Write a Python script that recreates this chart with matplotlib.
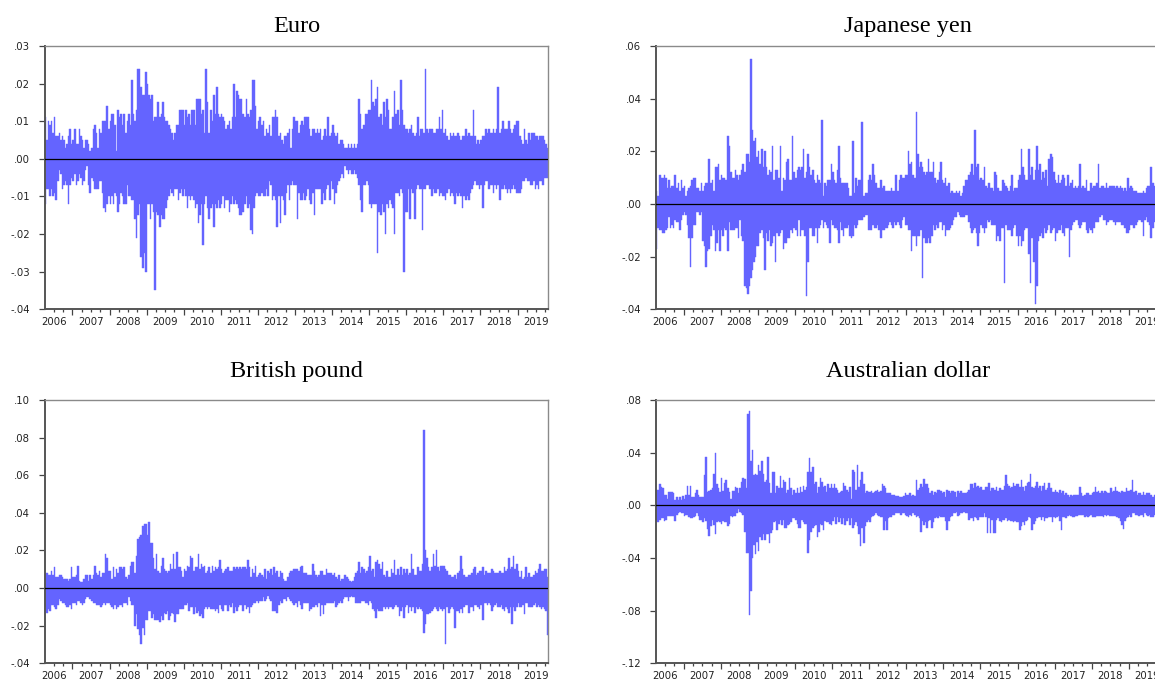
import numpy as np
import matplotlib
matplotlib.use("Agg")
import matplotlib.pyplot as plt
from matplotlib.ticker import FixedLocator, FuncFormatter

# ---------------- data: half-monthly high / low of daily returns (units of 0.001) ----------------
years = list(range(2006, 2020))   # 2006 starts in April, 2019 ends in October

euro_hi = [
    [11, 5, 10, 9, 10, 7, 11, 6, 6, 7, 5, 6, 5, 3, 4, 6, 8, 4],
    [5, 8, 4, 4, 8, 6, 5, 3, 5, 5, 4, 2, 3, 8, 9, 7, 3, 8, 7, 10, 10, 10, 14, 8],
    [10, 12, 12, 9, 2, 13, 11, 12, 9, 12, 7, 10, 12, 9, 21, 12, 10, 13, 24, 24, 19, 17, 17, 23],
    [20, 17, 16, 17, 10, 11, 11, 15, 11, 12, 15, 11, 10, 10, 9, 8, 7, 5, 7, 9, 9, 13, 13, 13],
    [9, 13, 11, 12, 9, 13, 13, 9, 16, 16, 16, 12, 13, 7, 24, 15, 7, 13, 10, 17, 12, 19, 12, 11],
    [12, 11, 10, 8, 9, 10, 8, 11, 20, 11, 18, 17, 16, 16, 12, 11, 16, 12, 11, 13, 21, 21, 14, 8],
    [10, 11, 9, 10, 6, 8, 7, 9, 6, 11, 11, 13, 11, 6, 7, 5, 4, 6, 6, 7, 8, 3, 8, 11],
    [10, 10, 7, 9, 10, 9, 11, 11, 11, 8, 6, 8, 8, 7, 8, 7, 8, 5, 6, 8, 6, 11, 6, 7],
    [9, 7, 6, 7, 4, 5, 5, 4, 3, 3, 4, 3, 4, 3, 4, 3, 4, 16, 12, 8, 9, 12, 12, 13],
    [13, 21, 15, 14, 16, 19, 11, 12, 9, 15, 11, 16, 13, 8, 8, 11, 18, 12, 13, 9, 21, 13, 9, 8],
    [8, 7, 8, 9, 7, 6, 7, 11, 6, 8, 8, 7, 24, 8, 7, 8, 8, 7, 7, 8, 8, 11, 8, 13],
    [7, 8, 6, 5, 7, 6, 7, 6, 6, 7, 6, 5, 6, 6, 8, 6, 7, 6, 6, 13, 6, 4, 5, 4],
    [5, 6, 6, 8, 7, 8, 7, 7, 8, 7, 8, 19, 7, 8, 10, 8, 8, 8, 10, 8, 7, 8, 9, 10],
    [10, 6, 5, 4, 8, 5, 4, 7, 5, 7, 7, 6, 6, 5, 6, 6, 6, 5, 4, 3],
]
euro_lo = [
    [-12, -8, -8, -10, -8, -10, -9, -11, -6, -3, -4, -8, -7, -6, -7, -12, -7, -5],
    [-6, -4, -7, -6, -4, -5, -7, -6, -3, -2, -7, -9, -5, -6, -8, -8, -8, -6, -6, -9, -13, -14, -12, -10],
    [-12, -10, -12, -9, -10, -14, -12, -9, -10, -12, -12, -7, -10, -10, -11, -11, -16, -21, -15, -12, -26, -29, -25, -30],
    [-12, -12, -16, -12, -14, -35, -14, -15, -18, -15, -16, -16, -13, -11, -10, -8, -9, -10, -8, -8, -11, -9, -8, -10],
    [-8, -10, -13, -10, -11, -10, -11, -13, -12, -17, -15, -12, -23, -12, -10, -13, -16, -13, -12, -18, -12, -13, -11, -13],
    [-12, -10, -13, -11, -11, -14, -12, -10, -12, -11, -12, -13, -15, -15, -14, -12, -10, -13, -12, -19, -20, -13, -10, -9],
    [-10, -10, -9, -10, -10, -8, -10, -6, -7, -11, -10, -11, -18, -10, -17, -10, -11, -15, -9, -7, -11, -7, -6, -7],
    [-7, -16, -9, -11, -11, -9, -11, -10, -8, -11, -12, -9, -15, -8, -8, -8, -8, -12, -9, -11, -8, -7, -11, -6],
    [-8, -12, -9, -7, -6, -5, -4, -5, -2, -3, -4, -3, -4, -4, -3, -4, -5, -7, -11, -14, -7, -7, -6, -7],
    [-12, -13, -12, -12, -12, -25, -14, -15, -12, -14, -20, -12, -13, -11, -12, -13, -20, -9, -9, -10, -8, -9, -30, -14],
    [-14, -8, -16, -8, -9, -16, -8, -7, -8, -8, -19, -8, -8, -7, -7, -8, -10, -8, -9, -9, -8, -10, -9, -10],
    [-10, -11, -9, -8, -10, -9, -10, -12, -9, -10, -9, -10, -13, -10, -11, -10, -11, -9, -8, -7, -6, -7, -7, -8],
    [-7, -13, -7, -6, -6, -8, -7, -7, -9, -7, -8, -7, -11, -8, -8, -7, -8, -9, -8, -9, -8, -7, -8, -9],
    [-9, -9, -8, -6, -6, -5, -6, -6, -7, -7, -6, -8, -7, -8, -6, -6, -7, -5, -5, -5],
]

yen_hi = [
    [5, 3, 11, 10, 10, 11, 10, 6, 9, 6, 7, 7, 11, 6, 8, 5, 9, 6],
    [7, 3, 5, 6, 7, 9, 10, 10, 6, 6, 5, 8, 5, 7, 8, 8, 17, 8, 9, 5, 14, 14, 15, 9],
    [11, 10, 10, 9, 26, 22, 12, 10, 10, 13, 11, 9, 11, 13, 15, 12, 19, 19, 16, 55, 28, 24, 25, 18],
    [20, 15, 21, 14, 20, 14, 11, 13, 12, 22, 9, 13, 13, 10, 22, 5, 10, 9, 16, 17, 9, 9, 26, 12],
    [10, 13, 14, 13, 14, 21, 10, 12, 19, 14, 11, 13, 9, 8, 11, 9, 8, 32, 3, 8, 7, 9, 9, 15],
    [12, 9, 8, 13, 22, 10, 8, 8, 8, 8, 6, 3, 3, 24, 4, 10, 7, 9, 9, 31, 3, 4, 4, 9],
    [11, 9, 15, 11, 8, 6, 6, 9, 6, 7, 5, 5, 5, 5, 6, 5, 5, 11, 5, 9, 11, 10, 10, 11],
    [11, 20, 15, 16, 11, 10, 35, 19, 14, 16, 14, 12, 11, 12, 17, 12, 12, 16, 10, 8, 9, 12, 16, 9],
    [8, 10, 7, 8, 4, 5, 4, 4, 5, 4, 5, 3, 4, 7, 9, 9, 11, 12, 15, 11, 28, 14, 15, 9],
    [10, 9, 14, 7, 6, 8, 6, 6, 5, 12, 11, 6, 5, 5, 9, 8, 7, 6, 5, 7, 11, 5, 6, 6],
    [9, 11, 21, 14, 11, 9, 9, 21, 11, 14, 9, 13, 22, 13, 15, 9, 12, 10, 13, 7, 17, 19, 18, 12],
    [9, 8, 11, 8, 9, 11, 10, 7, 11, 7, 8, 9, 6, 7, 6, 7, 15, 6, 7, 6, 9, 5, 5, 8],
    [6, 7, 7, 8, 15, 6, 7, 7, 6, 8, 6, 7, 7, 7, 7, 6, 7, 6, 7, 6, 5, 6, 5, 10],
    [6, 7, 6, 5, 5, 4, 4, 4, 4, 5, 4, 6, 7, 7, 14, 8, 7, 6, 6, 6],
]
yen_lo = [
    [-17, -9, -10, -10, -11, -11, -10, -9, -5, -9, -8, -9, -6, -7, -7, -10, -6, -4],
    [-3, -4, -8, -13, -24, -13, -8, -8, -3, -3, -4, -3, -14, -16, -24, -18, -17, -12, -8, -10, -18, -15, -10, -18],
    [-10, -12, -9, -10, -18, -7, -10, -10, -10, -9, -9, -13, -6, -12, -14, -31, -32, -34, -31, -28, -25, -22, -20, -16],
    [-16, -11, -10, -13, -25, -11, -14, -10, -16, -15, -12, -22, -11, -12, -11, -10, -17, -15, -15, -13, -13, -10, -11, -9],
    [-10, -12, -6, -12, -10, -10, -12, -35, -22, -9, -9, -12, -12, -9, -15, -9, -8, -6, -9, -7, -8, -9, -15, -6],
    [-8, -9, -9, -10, -15, -7, -10, -12, -9, -9, -8, -12, -13, -12, -8, -9, -8, -6, -6, -6, -5, -4, -4, -10],
    [-10, -10, -8, -9, -9, -8, -10, -13, -10, -10, -9, -9, -8, -7, -8, -9, -7, -8, -7, -8, -9, -6, -5, -8],
    [-8, -10, -10, -18, -12, -12, -16, -12, -12, -10, -28, -13, -15, -15, -13, -15, -12, -8, -10, -8, -9, -7, -7, -10],
    [-8, -12, -10, -10, -9, -8, -6, -5, -5, -3, -4, -5, -5, -5, -4, -4, -7, -9, -11, -10, -9, -11, -16, -11],
    [-8, -9, -11, -9, -6, -7, -6, -8, -8, -8, -14, -12, -14, -9, -9, -30, -8, -10, -10, -10, -12, -9, -8, -12],
    [-16, -12, -16, -14, -10, -9, -9, -19, -30, -13, -22, -38, -31, -14, -12, -11, -13, -9, -11, -10, -8, -11, -10, -9],
    [-14, -11, -10, -10, -8, -11, -12, -9, -9, -20, -10, -8, -7, -6, -6, -8, -9, -8, -7, -7, -10, -11, -9, -10],
    [-11, -9, -7, -7, -7, -5, -4, -6, -6, -8, -7, -6, -6, -6, -7, -8, -7, -7, -7, -8, -8, -9, -11, -11],
    [-10, -8, -8, -9, -8, -7, -6, -6, -7, -12, -6, -5, -7, -8, -13, -9, -7, -6, -7, -7],
]

gbp_hi = [
    [8, 8, 7, 7, 9, 7, 11, 6, 6, 7, 7, 6, 5, 5, 5, 4, 5, 11],
    [6, 6, 7, 12, 4, 3, 3, 5, 7, 7, 4, 7, 5, 7, 12, 8, 7, 9, 6, 8, 8, 18, 16, 9],
    [9, 5, 11, 6, 10, 8, 11, 11, 10, 11, 6, 5, 7, 12, 14, 14, 8, 17, 26, 27, 28, 33, 34, 34],
    [28, 35, 24, 24, 16, 10, 18, 9, 8, 12, 16, 10, 9, 8, 9, 13, 10, 18, 10, 19, 11, 11, 9, 6],
    [10, 9, 12, 11, 17, 16, 9, 11, 11, 18, 10, 13, 11, 12, 8, 9, 11, 8, 12, 9, 11, 10, 11, 15],
    [10, 8, 9, 10, 11, 9, 9, 9, 11, 10, 11, 10, 11, 10, 11, 11, 10, 15, 11, 6, 10, 8, 12, 6],
    [7, 8, 7, 6, 10, 5, 9, 8, 10, 7, 11, 8, 9, 6, 9, 8, 5, 4, 4, 6, 8, 9, 9, 10],
    [10, 10, 9, 11, 12, 8, 8, 8, 7, 7, 7, 13, 9, 7, 6, 7, 9, 9, 7, 7, 10, 8, 8, 8],
    [7, 8, 6, 5, 7, 4, 5, 5, 7, 6, 5, 4, 3, 4, 6, 8, 9, 14, 8, 11, 10, 8, 9, 11],
    [17, 9, 10, 6, 14, 15, 13, 10, 14, 7, 6, 9, 6, 6, 10, 8, 15, 7, 10, 7, 11, 7, 10, 8],
    [10, 7, 8, 18, 10, 7, 7, 11, 9, 9, 13, 84, 20, 16, 11, 9, 11, 18, 12, 20, 11, 9, 12, 12],
    [12, 10, 9, 7, 7, 6, 6, 7, 5, 8, 9, 17, 10, 7, 6, 6, 7, 7, 8, 10, 11, 7, 8, 9],
    [9, 11, 7, 9, 8, 8, 8, 10, 9, 8, 8, 8, 9, 8, 8, 11, 9, 10, 16, 10, 11, 17, 10, 13],
    [9, 6, 9, 5, 6, 11, 6, 8, 6, 6, 7, 9, 8, 10, 13, 9, 9, 10, 10, 6],
]
gbp_lo = [
    [-10, -13, -11, -12, -9, -9, -10, -11, -9, -6, -7, -8, -8, -9, -10, -10, -9, -11],
    [-8, -8, -9, -7, -7, -8, -9, -8, -6, -5, -5, -6, -7, -8, -8, -9, -9, -9, -10, -9, -8, -9, -8, -8],
    [-9, -10, -11, -9, -11, -10, -9, -9, -10, -8, -8, -9, -5, -7, -9, -9, -20, -14, -22, -25, -30, -21, -25, -17],
    [-17, -12, -12, -16, -14, -17, -17, -17, -18, -15, -17, -13, -14, -12, -17, -15, -13, -14, -18, -14, -14, -11, -11, -11],
    [-9, -9, -8, -12, -10, -10, -14, -10, -13, -12, -15, -14, -16, -11, -10, -11, -10, -11, -11, -11, -12, -11, -13, -9],
    [-11, -12, -9, -9, -12, -9, -10, -8, -13, -10, -12, -10, -9, -9, -12, -9, -11, -10, -13, -10, -9, -8, -8, -7],
    [-8, -7, -7, -5, -7, -6, -4, -6, -7, -12, -12, -12, -13, -9, -7, -8, -6, -6, -7, -5, -6, -7, -8, -9],
    [-8, -10, -7, -9, -11, -8, -8, -8, -8, -12, -11, -10, -10, -9, -10, -8, -15, -9, -14, -9, -8, -8, -8, -8],
    [-8, -7, -10, -9, -8, -7, -8, -6, -5, -5, -7, -5, -4, -5, -5, -8, -8, -8, -8, -7, -7, -8, -8, -9],
    [-7, -8, -11, -12, -16, -11, -12, -12, -12, -10, -11, -10, -11, -10, -10, -11, -10, -9, -10, -15, -12, -10, -16, -10],
    [-9, -13, -10, -12, -10, -13, -10, -11, -10, -11, -12, -24, -19, -14, -14, -13, -12, -11, -10, -11, -12, -10, -11, -12],
    [-11, -30, -10, -13, -11, -10, -11, -21, -12, -12, -13, -11, -13, -10, -9, -9, -13, -10, -10, -12, -9, -9, -10, -11],
    [-9, -17, -8, -8, -9, -8, -9, -12, -10, -9, -8, -10, -10, -9, -11, -12, -10, -11, -13, -10, -19, -10, -12, -10],
    [-8, -10, -10, -9, -14, -8, -8, -10, -10, -10, -9, -8, -10, -9, -10, -11, -10, -11, -12, -25],
]

aud_hi = [
    [12, 12, 16, 14, 13, 8, 8, 5, 10, 10, 10, 9, 4, 6, 4, 6, 4, 7],
    [5, 8, 15, 8, 15, 6, 6, 9, 12, 8, 6, 6, 6, 23, 37, 10, 11, 12, 13, 24, 40, 16, 13, 10],
    [21, 11, 17, 19, 13, 10, 5, 11, 11, 14, 13, 9, 13, 18, 21, 20, 13, 69, 72, 34, 42, 23, 24, 23],
    [31, 26, 34, 24, 18, 19, 37, 17, 9, 25, 25, 9, 15, 13, 22, 13, 19, 18, 9, 12, 21, 13, 8, 12],
    [9, 13, 9, 14, 10, 15, 12, 14, 25, 36, 25, 29, 16, 18, 9, 14, 21, 18, 14, 15, 10, 16, 13, 16],
    [13, 16, 13, 12, 9, 10, 11, 17, 15, 12, 10, 14, 5, 27, 25, 12, 31, 14, 19, 25, 16, 9, 11, 10],
    [10, 11, 9, 10, 11, 12, 10, 11, 16, 15, 13, 9, 9, 9, 8, 8, 8, 7, 7, 6, 6, 6, 7, 9],
    [8, 8, 9, 7, 8, 7, 19, 12, 13, 16, 14, 20, 16, 16, 13, 9, 11, 8, 10, 9, 12, 12, 11, 9],
    [10, 6, 12, 11, 9, 11, 11, 10, 6, 11, 9, 11, 9, 9, 9, 10, 12, 16, 16, 13, 17, 14, 15, 13],
    [14, 12, 12, 14, 14, 17, 11, 13, 13, 12, 14, 11, 13, 12, 12, 15, 23, 16, 15, 13, 14, 17, 15, 16],
    [16, 14, 19, 14, 11, 15, 17, 18, 24, 14, 13, 15, 18, 13, 15, 11, 15, 17, 12, 13, 17, 13, 10, 10],
    [12, 10, 9, 12, 9, 11, 8, 9, 8, 6, 8, 7, 8, 8, 8, 8, 14, 9, 7, 8, 9, 9, 8, 8],
    [9, 10, 14, 10, 11, 9, 11, 9, 11, 10, 9, 9, 13, 10, 11, 14, 11, 10, 9, 11, 10, 10, 13, 11],
    [11, 12, 19, 10, 11, 8, 9, 9, 8, 10, 8, 9, 9, 9, 8, 6, 8, 8, 7, 7],
]
aud_lo = [
    [-12, -13, -11, -10, -10, -12, -11, -8, -8, -8, -8, -8, -12, -7, -6, -5, -6, -6],
    [-8, -7, -7, -9, -10, -10, -9, -8, -6, -8, -11, -11, -13, -10, -12, -18, -23, -16, -11, -15, -22, -13, -12, -13],
    [-14, -12, -13, -13, -16, -14, -8, -9, -8, -8, -6, -3, -5, -6, -7, -20, -36, -36, -83, -65, -40, -30, -37, -28],
    [-35, -24, -26, -22, -26, -22, -22, -29, -21, -19, -13, -12, -19, -14, -11, -15, -11, -17, -17, -15, -14, -13, -10, -10],
    [-11, -14, -17, -17, -11, -13, -14, -14, -36, -26, -20, -17, -16, -15, -24, -20, -14, -15, -19, -12, -13, -13, -14, -15],
    [-12, -9, -14, -9, -13, -10, -14, -10, -15, -12, -10, -15, -10, -17, -15, -13, -16, -22, -31, -17, -29, -16, -13, -11],
    [-13, -9, -8, -7, -6, -7, -8, -9, -9, -19, -12, -19, -10, -9, -9, -7, -7, -6, -6, -6, -7, -6, -6, -7],
    [-8, -9, -7, -8, -6, -7, -9, -8, -10, -20, -12, -15, -13, -17, -12, -11, -17, -13, -10, -9, -10, -8, -9, -9],
    [-9, -12, -19, -12, -9, -8, -6, -6, -5, -8, -7, -6, -6, -5, -6, -6, -11, -10, -10, -12, -9, -10, -11, -9],
    [-9, -9, -6, -9, -21, -10, -21, -11, -21, -21, -11, -10, -12, -13, -11, -11, -10, -12, -11, -12, -12, -13, -12, -13],
    [-13, -19, -16, -13, -15, -12, -11, -9, -10, -19, -14, -12, -10, -9, -9, -11, -9, -12, -10, -10, -9, -9, -13, -9],
    [-10, -9, -8, -12, -19, -9, -9, -10, -8, -7, -8, -9, -9, -8, -8, -7, -7, -7, -7, -9, -8, -9, -8, -7],
    [-9, -9, -9, -8, -8, -8, -8, -9, -7, -8, -7, -8, -8, -8, -8, -8, -9, -10, -12, -15, -18, -12, -10, -9],
    [-7, -9, -6, -6, -7, -7, -8, -7, -7, -9, -6, -7, -8, -7, -9, -9, -7, -7, -8, -7],
]

titles = ["Euro", "Japanese yen", "British pound", "Australian dollar"]
yticks_euro = [-0.04, -0.03, -0.02, -0.01, 0.00, 0.01, 0.02, 0.03]
yticks_yen = [-0.04, -0.02, 0.00, 0.02, 0.04, 0.06]
yticks_gbp = [-0.04, -0.02, 0.00, 0.02, 0.04, 0.06, 0.08, 0.10]
yticks_aud = [-0.12, -0.08, -0.04, 0.00, 0.04, 0.08]

# ---------------- helpers ----------------
def series_xy(hi_rows, lo_rows):
    xs, his, los = [], [], []
    for yr, hrow, lrow in zip(years, hi_rows, lo_rows):
        n = len(hrow)
        off = 24 - n if yr == years[0] else 0
        for j in range(n):
            xs.append(yr + (off + j + 0.5) / 24.0)
            his.append(hrow[j] / 1000.0)
            los.append(lrow[j] / 1000.0)
    return np.array(xs), np.array(his), np.array(los)


def yfmt(v, pos):
    s = f"{v + 0.0:.2f}"
    if s.startswith("-0."):
        s = "-." + s[3:]
    elif s.startswith("0."):
        s = "." + s[2:]
    return s


def xminor_fmt(v, pos):
    frac = v - np.floor(v)
    if abs(frac - 0.5) < 1e-6:
        return str(int(np.floor(v)))
    return ""


W, H = 1155.0, 681.0
fig = plt.figure(figsize=(11.55, 6.81), dpi=100)
fig.patch.set_facecolor("white")

XMIN, XMAX = 2006.26, 2019.83
BLUE = "#6464FF"

panels = [
    (titles[0], euro_hi, euro_lo, (-0.04, 0.03), yticks_euro, (45, 46, 548.3, 309.3), 32),
    (titles[1], yen_hi, yen_lo, (-0.04, 0.06), yticks_yen, (656.3, 46, 1159.6, 309.3), 32),
    (titles[2], gbp_hi, gbp_lo, (-0.04, 0.10), yticks_gbp, (45, 400, 548.3, 663.3), 377),
    (titles[3], aud_hi, aud_lo, (-0.12, 0.08), yticks_aud, (656.3, 400, 1159.6, 663.3), 377),
]

for title, hi_rows, lo_rows, ylim, yt, (l, t, r, b), tbase in panels:
    ax = fig.add_axes([l / W, 1 - b / H, (r - l) / W, (b - t) / H])
    x, hi, lo = series_xy(hi_rows, lo_rows)
    ax.bar(x, hi - lo, bottom=lo, width=1 / 24.0, color=BLUE,
           edgecolor=BLUE, linewidth=0.3, zorder=2)
    ax.axhline(0, color="black", linewidth=0.9, zorder=3)
    ax.set_xlim(XMIN, XMAX)
    ax.set_ylim(*ylim)

    ax.yaxis.set_major_locator(FixedLocator([round(v, 2) for v in yt]))
    ax.yaxis.set_major_formatter(FuncFormatter(yfmt))

    majors = [float(y) for y in range(2007, 2020)]
    minors = [y + q for y in range(2006, 2020) for q in (0.25, 0.5, 0.75)
              if XMIN <= y + q <= XMAX]
    ax.xaxis.set_major_locator(FixedLocator(majors))
    ax.xaxis.set_minor_locator(FixedLocator(minors))
    ax.xaxis.set_major_formatter(FuncFormatter(lambda v, p: ""))
    ax.xaxis.set_minor_formatter(FuncFormatter(xminor_fmt))

    ax.tick_params(axis="x", which="major", direction="out", length=4.5,
                   width=0.9, color="#444444")
    ax.tick_params(axis="x", which="minor", direction="out", length=2.3,
                   width=0.9, color="#444444", labelsize=7.3, pad=3.0,
                   labelcolor="#222222")
    ax.tick_params(axis="y", which="major", direction="out", length=4.2,
                   width=0.9, color="#444444", labelsize=7.3, pad=6.5,
                   labelcolor="#222222")
    ax.tick_params(top=False, right=False)

    for side in ("left", "bottom"):
        ax.spines[side].set_color("#555555")
        ax.spines[side].set_linewidth(1.4)
    for side in ("top", "right"):
        ax.spines[side].set_color("#8a8a8a")
        ax.spines[side].set_linewidth(1.0)

    fig.text(((l + r) / 2) / W, 1 - tbase / H, title, ha="center", va="baseline",
             fontfamily="Liberation Serif", fontsize=17.5, color="black")

fig.savefig("out.png", dpi=100)
